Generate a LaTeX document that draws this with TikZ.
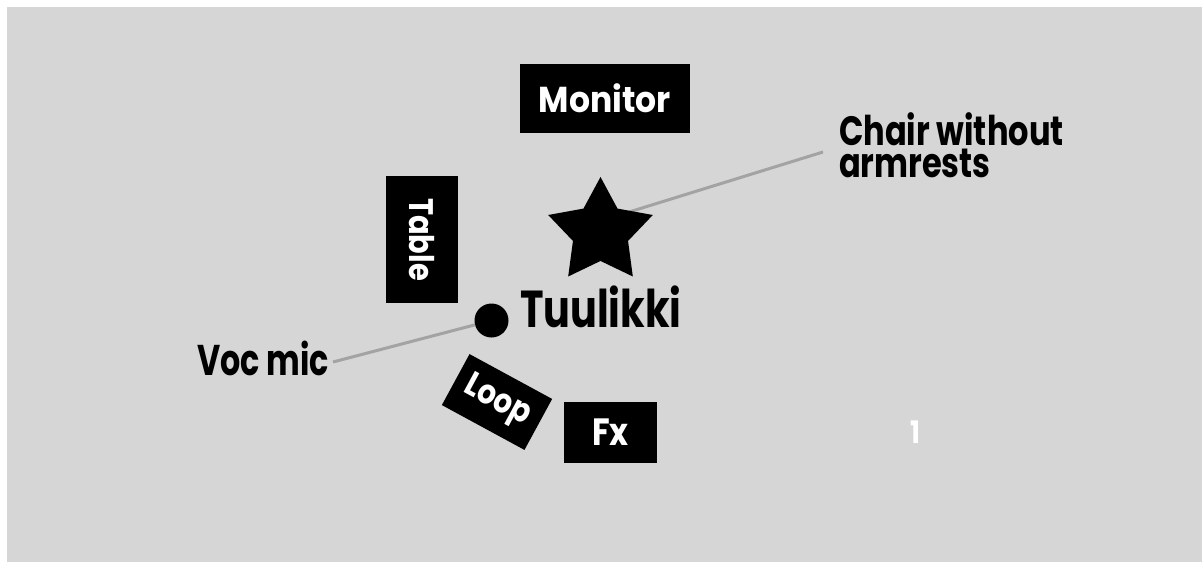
\documentclass[tikz,border=0pt]{standalone}
\usepackage{fontspec}
\setmainfont{Poppins}[FakeStretch=0.85]
\usetikzlibrary{shapes.geometric}
\definecolor{bg}{HTML}{D6D6D6}
\definecolor{wire}{HTML}{A3A3A3}
\tikzset{
  blackbox/.style={fill=black, text=white, inner sep=0pt, outer sep=0pt},
  label/.style={text=black, inner sep=0pt, outer sep=0pt},
  wireline/.style={draw=wire, line width=3pt},
}
\begin{document}
\begin{tikzpicture}[x=1pt,y=-1pt]
\useasboundingbox (0,0) rectangle (1202,562);
\fill[white] (0,0) rectangle (1202,562);
\fill[bg] (7,7) rectangle (1202,562);
% boxes
\node[blackbox, minimum width=170pt, minimum height=69pt, font=\bfseries\fontsize{36}{36}\selectfont] (monitor) at (605,98.5) {\scalebox{1.08}[1]{Monitor}};
\node[blackbox, minimum width=127pt, minimum height=72pt, rotate=-90, font=\bfseries\fontsize{34}{34}\selectfont] (table) at (422,239.5) {Table};
\node[blackbox, minimum width=94pt, minimum height=58pt, rotate=-28.5, font=\bfseries\fontsize{34}{34}\selectfont] (loop) at (497,402) {Loop};
\node[blackbox, minimum width=93pt, minimum height=61pt, font=\bfseries\fontsize{38}{38}\selectfont] (fx) at (610.5,432.5) {Fx};
% chair
\coordinate (chairstart) at (600,221);
\coordinate (chairend) at (823,152);
\draw[wireline] (chairstart) -- (chairend);
\node[star, star points=5, star point ratio=1.9, fill=black, inner sep=0pt, outer sep=0pt, minimum size=110pt] (chair) at (600.5,232) {};
\node[label, anchor=west, align=left, font=\bfseries\fontsize{41}{32}\selectfont] (chairlabel) at (839,145) {\scalebox{0.92}[1]{Chair without}\\\scalebox{0.92}[1]{armrests}};
% mic
\node[circle, fill=black, inner sep=0pt, outer sep=0pt, minimum size=34pt] (mic) at (491.5,320.5) {};
\coordinate (micend) at (333,362);
\draw[wireline] (mic) -- (micend);
\node[label, anchor=base east, font=\bfseries\fontsize{43}{43}\selectfont] (voclabel) at (329,375) {\scalebox{0.87}[1]{Voc mic}};
\node[label, anchor=base west, font=\bfseries\fontsize{52}{52}\selectfont] (name) at (520,327) {\scalebox{0.9}[1]{Tuulikki}};
\node[label, text=white, anchor=base, font=\bfseries\fontsize{31}{31}\selectfont] (num) at (915.5,443) {1};
\end{tikzpicture}
\end{document}
